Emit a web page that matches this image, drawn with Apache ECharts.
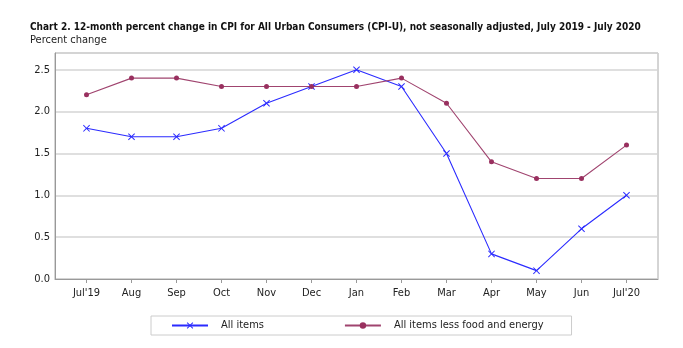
<!DOCTYPE html>
<html>
<head>
<meta charset="utf-8">
<script src="https://cdn.jsdelivr.net/npm/echarts@6/dist/echarts.min.js"></script>
<style>html,body{margin:0;padding:0;background:#fff;}#c{width:683px;height:348px;}</style>
</head>
<body>
<div id="c"></div>
<script>
const categories = ["Jul'19","Aug","Sep","Oct","Nov","Dec","Jan","Feb","Mar","Apr","May","Jun","Jul'20"];
const allItems = [1.8, 1.7, 1.7, 1.8, 2.1, 2.3, 2.5, 2.3, 1.5, 0.3, 0.1, 0.6, 1.0];
const coreItems = [2.2, 2.4, 2.4, 2.3, 2.3, 2.3, 2.3, 2.4, 2.1, 1.4, 1.2, 1.2, 1.6];
const yTicks = [0, 0.5, 1.0, 1.5, 2.0, 2.5];

const FONT = "'Liberation Sans Narrow', 'DejaVu Sans Condensed', 'Liberation Sans', sans-serif";
const xIdx = categories.map((c, i) => i);
const xSymbol = 'path://M0,1L1,0L5,4L9,0L10,1L6,5L10,9L9,10L5,6L1,10L0,9L4,5Z';

const chart = echarts.init(document.getElementById('c'), null, {renderer: 'canvas'});
chart.setOption({
  animation: false,
  textStyle: {fontFamily: FONT},
  title: {
    text: 'Chart 2. 12-month percent change in CPI for All Urban Consumers (CPI-U), not seasonally adjusted, July 2019 - July 2020',
    subtext: 'Percent change',
    left: 30, top: 22,
    itemGap: 3,
    padding: 0,
    textStyle: {fontFamily: FONT, fontSize: 10, fontWeight: 'bold', color: '#111'},
    subtextStyle: {fontFamily: FONT, fontSize: 11, color: '#222'}
  },
  grid: {left: 55, right: 25, top: 53, bottom: 69, show: true, borderColor: '#aaa', borderWidth: 1},
  xAxis: {
    type: 'value', min: -0.7, max: 12.7,
    axisLine: {show: true, onZero: false, lineStyle: {color: '#999'}},
    axisTick: {show: true, customValues: xIdx, length: 4, lineStyle: {color: '#999'}},
    axisLabel: {customValues: xIdx, margin: 9, fontSize: 11, color: '#222', fontFamily: FONT,
      formatter: v => categories[Math.round(v)]},
    splitLine: {show: false}
  },
  yAxis: {
    type: 'value', min: 0, max: 2.7,
    axisLine: {show: true, onZero: false, lineStyle: {color: '#999'}},
    axisTick: {show: false},
    axisLabel: {customValues: yTicks, margin: 5, fontSize: 11, color: '#222', fontFamily: FONT,
      formatter: v => v.toFixed(1)},
    splitLine: {show: true, lineStyle: {color: '#d4d4d4', width: 1.5}}
  },
  legend: {
    left: 151, top: 316,
    borderColor: '#ccc', borderWidth: 1,
    padding: [4, 28, 4, 20],
    itemGap: 80, itemWidth: 36, itemHeight: 8,
    textStyle: {fontFamily: FONT, fontSize: 11, color: '#222', padding: [0, 0, 0, 8]},
    data: ['All items', 'All items less food and energy']
  },
  series: [
    {name: 'All items', type: 'line', data: allItems.map((v, i) => [i, v]),
      symbol: xSymbol, symbolSize: 7,
      lineStyle: {color: '#2b2bff', width: 1.1}, itemStyle: {color: '#2b2bff'}},
    {name: 'All items less food and energy', type: 'line', data: coreItems.map((v, i) => [i, v]),
      symbol: 'circle', symbolSize: 5,
      lineStyle: {color: '#a0446f', width: 1.1}, itemStyle: {color: '#99305f'}}
  ]
});
</script>
</body>
</html>
